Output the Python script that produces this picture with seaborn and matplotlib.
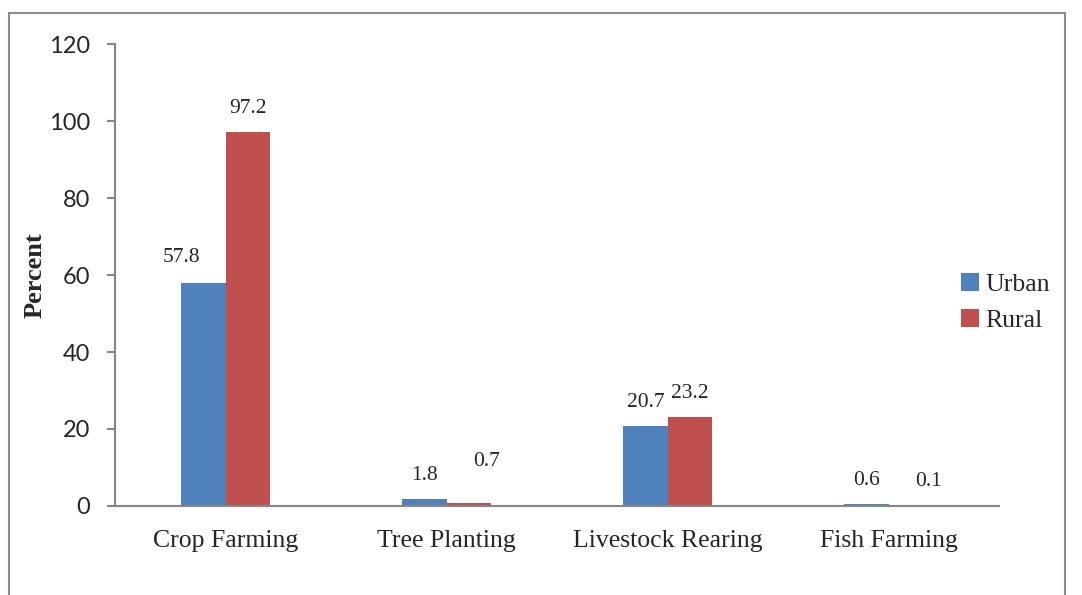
import pandas as pd
import matplotlib.pyplot as plt
import seaborn as sns
from matplotlib.patches import Rectangle

activities = ['Crop Farming', 'Tree Planting', 'Livestock Rearing', 'Fish Farming']
urban = [57.8, 1.8, 20.7, 0.6]
rural = [97.2, 0.7, 23.2, 0.1]

df = pd.DataFrame({
    'Activity': activities * 2,
    'Percent': urban + rural,
    'Area': ['Urban'] * 4 + ['Rural'] * 4,
})

sns.set_style('white')
serif = ['Liberation Serif', 'DejaVu Serif']
sans = ['Lato', 'DejaVu Sans']

fig = plt.figure(figsize=(10.82, 5.95), dpi=100)
ax = fig.add_axes([0.1063, 0.1496, 0.8170, 0.7764])

sns.barplot(data=df, x='Activity', y='Percent', hue='Area',
            palette=['#4F81BD', '#C0504D'], width=0.4, saturation=1,
            edgecolor='none', ax=ax)

ax.set_ylim(0, 120)
ax.set_yticks(range(0, 121, 20))
ax.set_xlim(-0.5, 3.5)
ax.set_xlabel('')
ax.set_ylabel('Percent', family=serif, fontsize=19, fontweight='bold')
ax.yaxis.set_label_coords(-0.077, 0.5)

for s in ['top', 'right']:
    ax.spines[s].set_visible(False)
for s in ['left', 'bottom']:
    ax.spines[s].set_color('#868686')
    ax.spines[s].set_linewidth(1.5)

ax.tick_params(axis='y', which='major', left=True, length=6, width=1.5,
               color='#868686', labelsize=17, pad=12)
ax.tick_params(axis='x', bottom=False, pad=13.5)
for t in ax.get_yticklabels():
    t.set_family(sans)
for t in ax.get_xticklabels():
    t.set_family(serif)
    t.set_fontsize(18.5)

# value labels (nudges in points, mimicking Excel's placement)
for name, cont in zip(['Urban', 'Rural'], ax.containers):
    vals = urban if name == 'Urban' else rural
    for i, (bar, v) in enumerate(zip(cont, vals)):
        dx, dy = 0, 0
        if name == 'Urban' and i == 0:
            dx, dy = -16, 2
        if name == 'Rural' and i == 1:
            dx, dy = 13, 13
        if name == 'Rural' and i == 3:
            dx, dy = 13, 0
        ax.annotate(f'{v}', (bar.get_x() + bar.get_width() / 2, bar.get_height()),
                    xytext=(dx, 17 + dy), textcoords='offset points',
                    ha='center', va='center', family=serif, fontsize=15.5)

leg = ax.legend(loc='center left', bbox_to_anchor=(0.957, 0.44), frameon=False,
                borderaxespad=0, borderpad=0,
                handlelength=0.7, handleheight=0.7, handletextpad=0.25,
                labelspacing=0.5, prop={'family': serif, 'size': 18.5})

fig.patches.append(Rectangle((9 / 1082, -0.1), (1065 - 9) / 1082, 1.1 - 13 / 595,
                             transform=fig.transFigure, fill=False,
                             edgecolor='#8c8c8c', linewidth=1.5))

fig.savefig('out.png', dpi=100)
